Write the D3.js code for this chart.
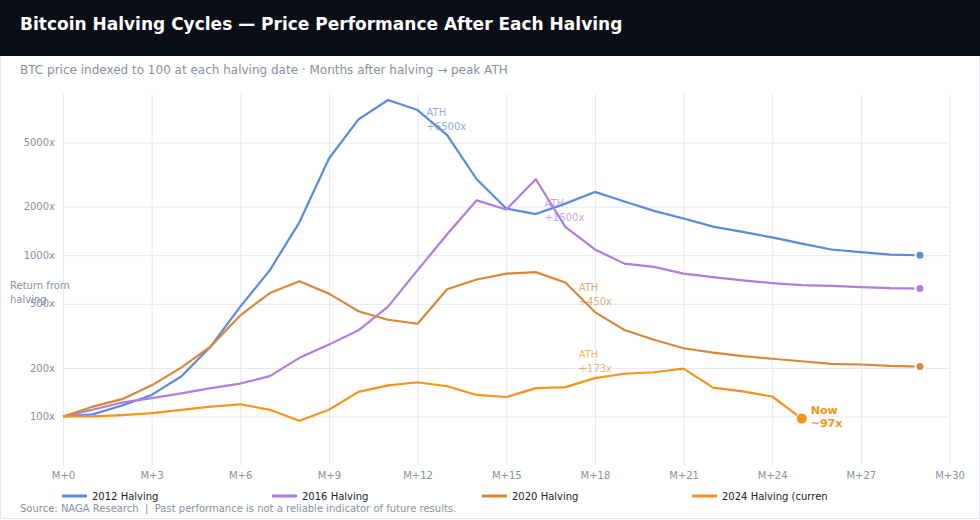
<!DOCTYPE html>
<html>
<head>
<meta charset="utf-8">
<script src="https://cdn.jsdelivr.net/npm/d3@7"></script>
<style>
  html, body { margin: 0; padding: 0; background: #ffffff; }
  svg { display: block; font-family: "DejaVu Sans", sans-serif; }
</style>
</head>
<body>
<svg id="chart" width="980" height="520"></svg>
<script>
// ---------- DATA ----------
const seriesNames = ["2012 Halving", "2016 Halving", "2020 Halving", "2024 Halving (current)"];
const months = [0,1,2,3,4,5,6,7,8,9,10,11,12,13,14,15,16,17,18,19,20,21,22,23,24,25,26,27,28,29];
const values2012 = [100,103,117,136,177,272,480,808,1600,3980,6960,9180,7950,5560,2960,1950,1800,2090,2470,2155,1885,1690,1505,1395,1290,1180,1085,1045,1010,1000];
const values2016 = [100,110,122,130,139,150,160,178,231,279,342,480,808,1350,2190,1920,2960,1500,1086,887,846,769,731,698,672,653,645,635,625,621];
const values2020 = [100,115,128,156,201,272,424,583,690,578,449,398,376,615,707,769,786,677,444,344,299,265,249,237,228,220,212,210,206,204];
const values2024 = [100,100,102,105,110,115,119,110,94,110,142,156,163,154,136,132,150,152,173,184,188,198,151,143,133,97];
const xTickValues = [0,3,6,9,12,15,18,21,24,27,30];
const yTickValues = [100,200,500,1000,2000,5000];
const athLabels = ["+6500x", "+1500x", "+450x", "+173x"];
const athMonths = [12.3, 16.3, 17.45, 17.45];
const athValues = [7300, 2000, 600, 232];
const nowLabel = ["Now", "~97x"];

// ---------- STYLE ----------
const colors = ["#5b8ad9", "#b07ddf", "#d9883a", "#f7931a"];
const gridColor = "#e6e7f0";
const mutedText = "#8a8fa3";

const svg = d3.select("#chart");
const W = 980, H = 520;

// card
svg.append("rect").attr("x", 0.5).attr("y", 0.5).attr("width", W - 1).attr("height", 518)
  .attr("fill", "#fff").attr("stroke", "#e4e6f0");
svg.append("rect").attr("x", 0).attr("y", 0).attr("width", W).attr("height", 56).attr("fill", "#0b0d17");
svg.append("text").attr("x", 20).attr("y", 30)
  .attr("fill", "#ffffff").attr("font-size", 17).attr("font-weight", "bold")
  .text("Bitcoin Halving Cycles — Price Performance After Each Halving");
svg.append("text").attr("x", 20).attr("y", 74)
  .attr("fill", mutedText).attr("font-size", 12)
  .text("BTC price indexed to 100 at each halving date · Months after halving → peak ATH");

// scales
const plot = { left: 63, right: 949.5, top: 94, bottom: 465 };
const x = d3.scaleLinear().domain([0, 30]).range([plot.left, plot.right]);
const y = d3.scaleLog().domain([50, 10000]).range([plot.bottom, plot.top]);

// axes / grid
const xAxis = svg.append("g").attr("transform", `translate(0,${plot.bottom})`)
  .call(d3.axisBottom(x).tickValues(xTickValues).tickFormat(d => "M+" + d)
    .tickSize(-(plot.bottom - plot.top)).tickPadding(7));
const yAxis = svg.append("g").attr("transform", `translate(${plot.left},0)`)
  .call(d3.axisLeft(y).tickValues(yTickValues).tickFormat(d => d + "x")
    .tickSize(-(plot.right - plot.left)).tickPadding(8));
[xAxis, yAxis].forEach(g => {
  g.select(".domain").remove();
  g.selectAll(".tick line").attr("stroke", gridColor).attr("stroke-width", 1);
  g.selectAll(".tick text").attr("fill", mutedText).attr("font-size", 10)
    .attr("font-family", "DejaVu Sans, sans-serif");
});

// y-axis title (wrapped)
const yTitle = svg.append("text").attr("x", 10).attr("y", 289)
  .attr("fill", mutedText).attr("font-size", 10);
yTitle.append("tspan").attr("x", 10).text("Return from");
yTitle.append("tspan").attr("x", 10).attr("dy", 14).text("halving");

// lines
const allValues = [values2012, values2016, values2020, values2024];
const line = d3.line().x(d => x(d[0])).y(d => y(d[1]));
allValues.forEach((vals, i) => {
  const pts = vals.map((v, j) => [months[j], v]);
  svg.append("path").datum(pts)
    .attr("d", line).attr("fill", "none")
    .attr("stroke", colors[i]).attr("stroke-width", 2.2)
    .attr("stroke-linejoin", "round");
});

// end dots
allValues.forEach((vals, i) => {
  const last = vals.length - 1;
  svg.append("circle")
    .attr("cx", x(months[last])).attr("cy", y(vals[last]))
    .attr("r", i === 3 ? 5.5 : 4.5)
    .attr("fill", colors[i]).attr("stroke", "#fff").attr("stroke-width", i === 3 ? 1 : 2);
});

// ATH annotations
athLabels.forEach((lab, i) => {
  const t = svg.append("text").attr("x", x(athMonths[i])).attr("y", y(athValues[i]))
    .attr("fill", colors[i]).attr("fill-opacity", 0.72).attr("font-size", 10);
  t.append("tspan").attr("x", x(athMonths[i])).text("ATH");
  t.append("tspan").attr("x", x(athMonths[i])).attr("dy", 14).text(lab);
});

// Now label
{
  const last = values2024.length - 1;
  const cx = x(months[last]), cy = y(values2024[last]);
  const t = svg.append("text").attr("x", cx + 9).attr("y", cy - 5)
    .attr("fill", colors[3]).attr("font-size", 11).attr("font-weight", "bold");
  t.append("tspan").attr("x", cx + 9).text(nowLabel[0]);
  t.append("tspan").attr("x", cx + 9).attr("dy", 13).text(nowLabel[1]);
}

// legend
const legend = svg.append("g").attr("transform", "translate(62,496)");
seriesNames.forEach((name, i) => {
  const g = legend.append("g").attr("transform", `translate(${i * 210},0)`);
  const clipId = "lg-clip-" + i;
  g.append("clipPath").attr("id", clipId)
    .append("rect").attr("x", 0).attr("y", -10).attr("width", 135).attr("height", 20);
  g.append("line").attr("x1", 0).attr("x2", 25).attr("y1", 0).attr("y2", 0)
    .attr("stroke", colors[i]).attr("stroke-width", 3);
  g.append("text").attr("x", 30).attr("y", 0).attr("dy", "0.35em")
    .attr("clip-path", `url(#${clipId})`)
    .attr("fill", "#222").attr("font-size", 10).text(name);
});

// source
svg.append("text").attr("x", 20).attr("y", 512)
  .attr("fill", mutedText).attr("font-size", 10)
  .text("Source: NAGA Research  |  Past performance is not a reliable indicator of future results.")
  .attr("xml:space", "preserve").style("white-space", "pre");
</script>
</body>
</html>
